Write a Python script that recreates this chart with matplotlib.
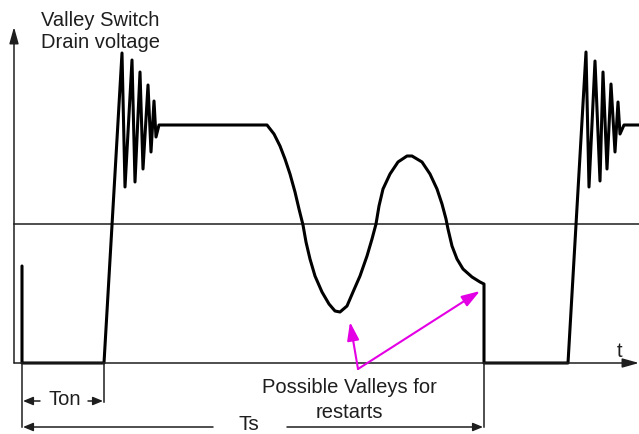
import matplotlib
matplotlib.use("Agg")
import matplotlib.pyplot as plt

plt.rcParams['font.family'] = ['Liberation Sans', 'DejaVu Sans']

# Drain voltage waveform (t, v), v = 0 on the time axis
wave_t = [22, 22, 104, 122, 125, 132, 135, 140, 143, 148, 151, 154, 156, 159,
          267, 274, 280, 285, 290, 295, 299, 303, 306, 310, 315, 322, 329, 335,
          340, 347, 353, 360, 367, 372, 376, 379, 383, 390, 398, 407, 412, 422,
          430, 437, 442, 446, 448, 452, 457, 463, 472, 480, 484,
          484, 568, 586, 589, 595, 600, 603, 607, 611, 615, 618, 620, 624,
          639]
wave_v = [97, 0, 0, 310, 176, 303, 181, 291, 194, 278, 211, 262, 226, 238,
          238, 229, 217, 204, 189, 171, 154, 138, 121, 104, 87, 71, 59, 52,
          51, 57, 71, 87, 107, 124, 139, 157, 174, 189, 201, 207, 207, 201,
          189, 174, 159, 144, 134, 117, 104, 94, 86, 81, 79,
          0, 0, 311, 176, 302, 182, 291, 194, 279, 211, 261, 229, 238,
          238]

threshold = 139
t_axis = 14
t_end = 639
v_top = 336

t_start = 22      # switch turn-on
t_on_end = 104    # end of Ton
t_period = 484    # end of Ts
dim_ton = -38
dim_ts = -64

# valley pointers: common origin, then two tips
valley_origin = (358, -6)
valley_tips = [(350, 41), (480, 72)]

ink = '#1e1e1e'
magenta = '#e400e4'

fig = plt.figure(figsize=(6.39, 4.35), dpi=100)
ax = fig.add_axes([0, 0, 1, 1])
ax.set_xlim(0, 639)
ax.set_ylim(-71, 364)
ax.axis('off')

# axes with arrows
ax.annotate('', xy=(t_axis, v_top), xytext=(t_axis, 0),
            arrowprops=dict(arrowstyle='-|>,head_length=1.0,head_width=0.28',
                            lw=1.1, color=ink, shrinkA=0, shrinkB=0))
ax.annotate('', xy=(t_end, 0), xytext=(t_axis, 0),
            arrowprops=dict(arrowstyle='-|>,head_length=1.0,head_width=0.28',
                            lw=1.1, color=ink, shrinkA=0, shrinkB=0))
ax.plot([t_axis, t_end], [threshold, threshold], color=ink, lw=1.1)

# waveform
ax.plot(wave_t, wave_v, color='black', lw=2.2, solid_joinstyle='round',
        solid_capstyle='round')

# dimension lines
ax.plot([t_start, t_start], [0, dim_ts], color=ink, lw=1.1)
ax.plot([t_on_end, t_on_end], [0, dim_ton - 1], color=ink, lw=1.1)
ax.plot([t_period, t_period], [0, dim_ts], color=ink, lw=1.1)

small_head = dict(arrowstyle='-|>,head_length=0.6,head_width=0.25',
                  lw=1.1, color=ink, shrinkA=0, shrinkB=0)
ax.annotate('', xy=(t_start + 1, dim_ton), xytext=(40, dim_ton), arrowprops=small_head)
ax.annotate('', xy=(t_on_end - 1, dim_ton), xytext=(88, dim_ton), arrowprops=small_head)
ax.annotate('', xy=(t_start + 1, dim_ts), xytext=(213, dim_ts), arrowprops=small_head)
ax.annotate('', xy=(t_period - 1, dim_ts), xytext=(287, dim_ts), arrowprops=small_head)

# valley pointers
for tip in valley_tips:
    ax.annotate('', xy=tip, xytext=valley_origin,
                arrowprops=dict(arrowstyle='-|>,head_length=1.1,head_width=0.36',
                                lw=1.5, color=magenta, shrinkA=0, shrinkB=0))

# labels
fs = 14.5
ax.text(41, 338, 'Valley Switch', fontsize=fs, color=ink, va='baseline')
ax.text(41, 316, 'Drain voltage', fontsize=fs, color=ink, va='baseline')
ax.text(620, 7, 't', fontsize=fs, color=ink, ha='center', va='baseline')
ax.text(65, -41, 'Ton', fontsize=fs, color=ink, ha='center', va='baseline')
ax.text(249, -66, 'Ts', fontsize=15, color=ink, ha='center', va='baseline')
ax.text(349, -29, 'Possible Valleys for', fontsize=fs, color=ink,
        ha='center', va='baseline')
ax.text(349, -54, 'restarts', fontsize=fs, color=ink, ha='center', va='baseline')

fig.savefig('out.png', dpi=100)
